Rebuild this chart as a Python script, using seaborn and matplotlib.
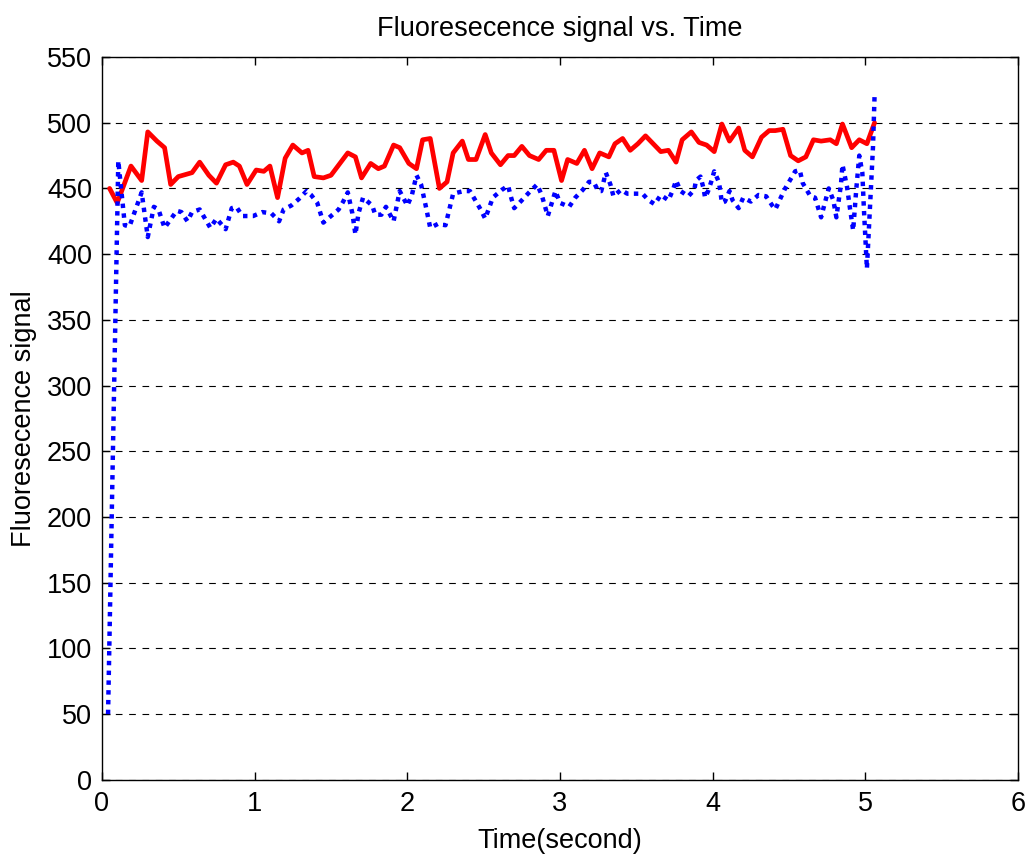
import matplotlib
matplotlib.use("Agg")
import matplotlib.pyplot as plt
import seaborn as sns
import pandas as pd

red_t = [0.05, 0.10, 0.19, 0.26, 0.30, 0.36, 0.41, 0.45, 0.50, 0.59, 0.64, 0.70, 0.75, 0.81, 0.86, 0.90,
         0.95, 1.01, 1.06, 1.10, 1.15, 1.20, 1.25, 1.31, 1.35, 1.39, 1.45, 1.50, 1.61, 1.66, 1.70, 1.76,
         1.81, 1.85, 1.91, 1.95, 2.01, 2.06, 2.10, 2.15, 2.21, 2.26, 2.30, 2.36, 2.40, 2.45, 2.51, 2.55,
         2.61, 2.66, 2.70, 2.75, 2.80, 2.86, 2.91, 2.96, 3.01, 3.05, 3.11, 3.16, 3.21, 3.26, 3.32, 3.36,
         3.41, 3.46, 3.51, 3.56, 3.61, 3.66, 3.71, 3.76, 3.80, 3.86, 3.91, 3.96, 4.01, 4.06, 4.11, 4.17,
         4.21, 4.26, 4.32, 4.37, 4.41, 4.46, 4.51, 4.56, 4.61, 4.66, 4.71, 4.77, 4.81, 4.85, 4.91, 4.96,
         5.01, 5.06]
red_v = [450, 439, 467, 456, 493, 486, 481, 453, 459, 462, 470, 460, 454, 468, 470, 467,
         453, 464, 463, 467, 443, 473, 483, 477, 479, 459, 458, 460, 477, 474, 458, 469,
         465, 467, 483, 481, 469, 465, 487, 488, 450, 455, 477, 486, 472, 472, 491, 477,
         468, 475, 475, 482, 475, 472, 479, 479, 456, 472, 469, 479, 465, 477, 474, 484,
         488, 479, 484, 490, 484, 478, 479, 470, 487, 493, 485, 483, 478, 499, 486, 496,
         479, 474, 489, 494, 494, 495, 475, 471, 474, 487, 486, 487, 484, 499, 481, 487,
         484, 500]

blue_t = [0.04, 0.107, 0.15, 0.18, 0.26, 0.30, 0.34, 0.37, 0.41, 0.49, 0.52, 0.56, 0.59, 0.64, 0.71,
          0.75, 0.81, 0.85, 0.88, 0.92, 0.99, 1.05, 1.11, 1.16, 1.19, 1.24, 1.29, 1.34, 1.37, 1.41,
          1.45, 1.49, 1.55, 1.58, 1.61, 1.64, 1.66, 1.68, 1.71, 1.77, 1.79, 1.83, 1.86, 1.91, 1.95,
          2.00, 2.03, 2.06, 2.09, 2.12, 2.15, 2.20, 2.25, 2.30, 2.37, 2.41, 2.48, 2.51, 2.56, 2.62,
          2.66, 2.68, 2.70, 2.75, 2.79, 2.85, 2.88, 2.90, 2.92, 2.97, 3.00, 3.06, 3.10, 3.15, 3.19,
          3.22, 3.25, 3.27, 3.30, 3.33, 3.35, 3.40, 3.44, 3.49, 3.54, 3.58, 3.62, 3.66, 3.71, 3.74,
          3.76, 3.79, 3.84, 3.88, 3.89, 3.92, 3.94, 3.95, 3.97, 3.99, 4.01, 4.04, 4.05, 4.06, 4.08,
          4.11, 4.13, 4.17, 4.20, 4.25, 4.30, 4.35, 4.39, 4.41, 4.47, 4.54, 4.57, 4.59, 4.64, 4.67,
          4.71, 4.73, 4.76, 4.79, 4.81, 4.84, 4.85, 4.88, 4.90, 4.92, 4.94, 4.96, 4.98, 4.99, 5.01,
          5.05, 5.06]
blue_v = [50, 471, 422, 421, 447, 413, 436, 434, 420, 433, 432, 425, 432, 434, 420,
          427, 419, 435, 436, 429, 429, 432, 431, 425, 434, 437, 442, 448, 445, 439,
          424, 428, 434, 440, 447, 431, 415, 431, 443, 437, 430, 430, 436, 425, 448,
          437, 445, 460, 453, 437, 420, 423, 422, 446, 448, 448, 434, 427, 443, 449,
          452, 443, 435, 441, 446, 453, 445, 437, 429, 448, 439, 436, 443, 449, 455,
          455, 448, 448, 462, 453, 444, 449, 446, 446, 446, 441, 438, 445, 441, 449,
          456, 448, 444, 449, 456, 459, 450, 443, 448, 455, 463, 455, 448, 439, 440,
          448, 441, 435, 443, 440, 445, 444, 437, 434, 449, 463, 464, 454, 444, 443,
          428, 437, 450, 441, 428, 453, 468, 451, 434, 418, 449, 475, 462, 435, 389,
          482, 520]

x_ticks = [0, 1, 2, 3, 4, 5, 6]
y_ticks = list(range(0, 551, 50))

sns.set_style("white")
plt.rcParams['font.family'] = ['Liberation Sans', 'DejaVu Sans']

fig = plt.figure(figsize=(10.32, 8.57), dpi=100)
ax = fig.add_axes([0.0988, 0.090, 0.8877, 0.8435])

red_df = pd.DataFrame({"t": red_t, "v": red_v})
blue_df = pd.DataFrame({"t": blue_t, "v": blue_v})

sns.lineplot(data=red_df, x="t", y="v", ax=ax, color="#ff0000", linewidth=3.4, sort=False,
             estimator=None, zorder=3)
sns.lineplot(data=blue_df, x="t", y="v", ax=ax, color="#0000ff", linewidth=3.2, sort=False,
             estimator=None, zorder=4, linestyle=(0, (1, 1.2)))

ax.set_xlim(0, 6)
ax.set_ylim(0, 550)
ax.set_xticks(x_ticks)
ax.set_yticks(y_ticks)
ax.yaxis.grid(True, linestyle=(0, (6, 6)), color="black", linewidth=0.8)
ax.xaxis.grid(False)
for s in ax.spines.values():
    s.set_visible(True)
    s.set_color("black")
    s.set_linewidth(1.0)
ax.tick_params(direction="in", length=6, width=1, colors="black", labelsize=19.5,
               top=True, right=True, bottom=True, left=True)
ax.tick_params(axis="y", pad=7)
ax.tick_params(axis="x", pad=8)
ax.set_xlabel("Time(second)", fontsize=19.5, color="black", labelpad=8)
ax.set_ylabel("Fluoresecence signal", fontsize=19.5, color="black", labelpad=7)
ax.set_title("Fluoresecence signal vs. Time", fontsize=19.5, color="black", pad=15)

fig.savefig("out.png", dpi=100, facecolor="white")
